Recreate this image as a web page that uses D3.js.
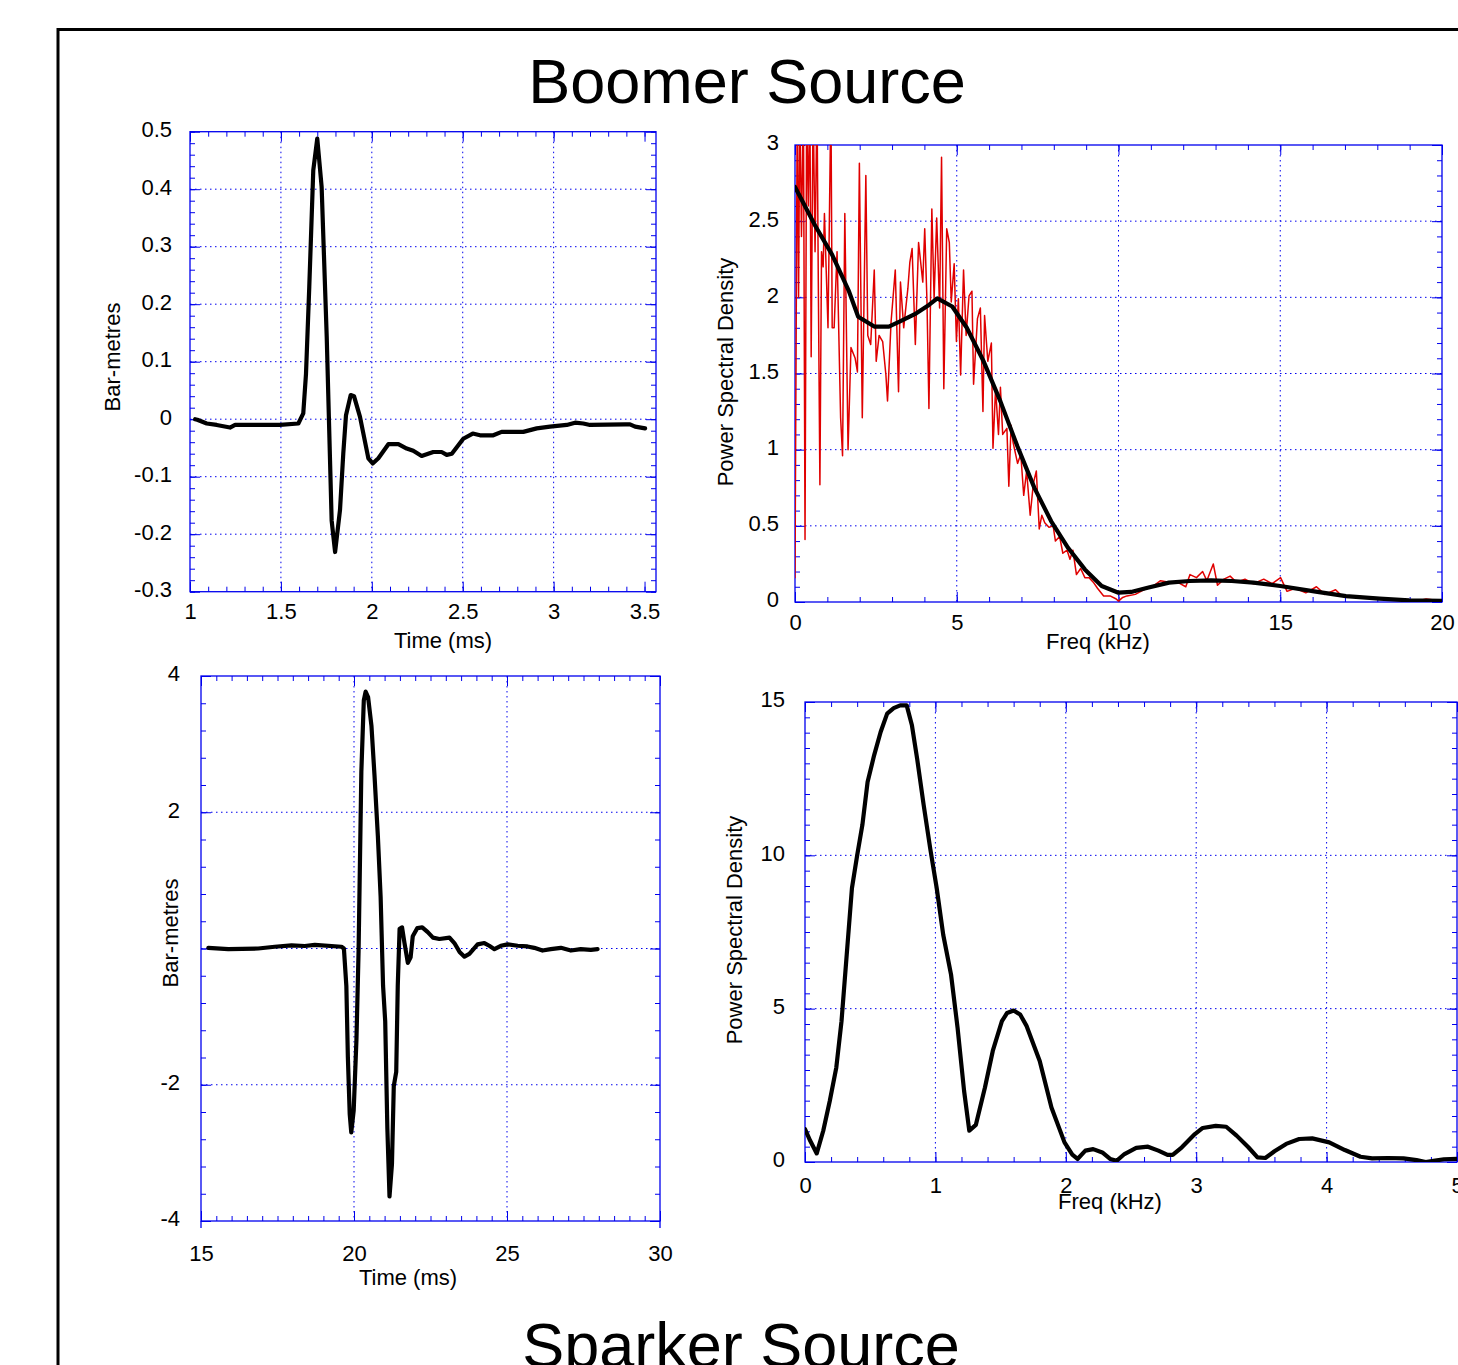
<!DOCTYPE html>
<html>
<head>
  <meta charset="utf-8">
  <title>Boomer / Sparker source</title>
  <script src="https://d3js.org/d3.v7.min.js"></script>
  <style>
    body { margin: 0; background: #fff; }
    svg { display: block; font-family: "Liberation Sans", Arial, Helvetica, sans-serif; }
    .frame { fill: none; stroke: #0000ee; stroke-width: 1.3; }
    .ticks .tick line { stroke: #0000ee; stroke-width: 1; }
    .domain { display: none; }
    .grid line { stroke: #0000ee; stroke-width: 1; stroke-dasharray: 1.5, 3.5; }
    .lbl text { font-size: 22px; fill: #000; }
    .title { font-size: 22px; fill: #000; text-anchor: middle; }
    .big { font-size: 63px; fill: #000; text-anchor: middle; }
  </style>
</head>
<body>
<svg id="chart" width="1458" height="1365"></svg>
<script>
// --- Boomer: pressure signature (ms, bar-metres)
var boomerT = [1.028,1.04,1.092,1.147,1.22,1.248,1.495,1.596,1.623,1.638,1.656,1.678,1.70,1.724,1.752,1.779,1.798,1.825,1.843,1.858,1.884,1.902,1.935,1.981,2.005,2.036,2.091,2.146,2.192,2.228,2.274,2.338,2.384,2.412,2.44,2.503,2.555,2.595,2.668,2.714,2.833,2.907,2.98,3.072,3.118,3.163,3.2,3.393,3.42,3.448,3.503];
var boomerV = [0.0,-0.001,-0.0075,-0.010,-0.0145,-0.010,-0.010,-0.0075,0.010,0.079,0.23,0.433,0.488,0.404,0.143,-0.176,-0.231,-0.158,-0.060,0.007,0.042,0.040,0.004,-0.068,-0.077,-0.068,-0.0435,-0.0435,-0.051,-0.055,-0.064,-0.057,-0.057,-0.062,-0.060,-0.034,-0.025,-0.028,-0.028,-0.022,-0.022,-0.016,-0.013,-0.010,-0.006,-0.0075,-0.010,-0.009,-0.009,-0.013,-0.016];

// --- Boomer: raw spectrum (red) and smoothed spectrum (black), kHz
var rawF = [0,0.03,0.07,0.11,0.15,0.2,0.26,0.31,0.36,0.41,0.46,0.5,0.56,0.62,0.68,0.72,0.77,0.82,0.87,0.91,1.02,1.11,1.15,1.21,1.30,1.41,1.47,1.54,1.64,1.73,1.86,1.93,1.99,2.08,2.19,2.25,2.34,2.45,2.51,2.60,2.71,2.81,2.86,2.97,3.10,3.20,3.26,3.36,3.49,3.55,3.62,3.72,3.82,3.95,4.01,4.08,4.14,4.23,4.30,4.38,4.47,4.53,4.60,4.69,4.77,4.83,4.92,4.99,5.05,5.12,5.21,5.29,5.38,5.47,5.52,5.64,5.73,5.81,5.86,5.96,6.07,6.12,6.20,6.29,6.35,6.42,6.55,6.61,6.68,6.74,6.88,6.98,7.07,7.16,7.27,7.37,7.46,7.55,7.63,7.72,7.85,7.98,8.05,8.18,8.28,8.41,8.50,8.59,8.70,8.83,8.96,9.09,9.22,9.35,9.54,9.74,9.93,10.0,10.13,10.26,10.52,10.78,11.04,11.30,11.56,11.82,12.08,12.21,12.41,12.60,12.73,12.93,13.06,13.26,13.45,13.65,13.91,14.17,14.49,14.75,15.01,15.21,15.47,15.79,16.12,16.38,16.71,16.90,17.29,17.81,18.33,18.72,19.24,19.51,20.0];
var rawP = [0.16,1.5,3.3,2.0,3.3,2.4,3.3,0.41,3.3,2.6,3.3,1.61,3.3,2.3,3.3,2.11,0.77,2.3,2.2,2.55,1.8,3.3,1.8,1.8,2.3,1.21,0.96,2.55,1.0,1.67,1.6,1.51,2.88,1.21,2.8,1.75,1.69,2.18,1.58,1.75,1.71,1.49,1.32,1.84,2.18,1.38,2.1,1.8,2.06,2.23,2.32,1.69,2.36,2.1,2.45,1.97,1.27,2.58,1.99,2.52,1.93,2.92,1.4,2.45,2.36,1.97,2.22,1.71,1.99,1.49,2.18,1.75,2.01,2.04,1.43,1.86,1.93,1.25,1.88,1.58,1.70,1.01,1.40,1.10,1.41,1.10,1.14,0.76,1.16,1.05,0.91,0.97,0.70,0.86,0.57,0.78,0.86,0.48,0.57,0.52,0.49,0.50,0.40,0.43,0.32,0.34,0.28,0.34,0.18,0.22,0.16,0.16,0.13,0.09,0.04,0.04,0.02,0.006,0.03,0.04,0.05,0.08,0.10,0.14,0.13,0.13,0.10,0.18,0.16,0.20,0.14,0.25,0.11,0.15,0.17,0.13,0.15,0.12,0.15,0.12,0.16,0.07,0.09,0.06,0.10,0.05,0.08,0.04,0.04,0.03,0.02,0.01,0.007,0.02,0.007];
var smoothF = [0,0.625,1.146,1.667,1.953,2.45,2.9,3.23,3.75,4.14,4.4,4.86,5.31,5.83,6.35,6.875,7.4,7.92,8.44,8.96,9.48,10.0,10.39,10.9,11.56,12.2,12.86,13.5,14.17,15.0,16.1,17.03,18.07,18.98,20];
var smoothP = [2.725,2.47,2.28,2.04,1.873,1.808,1.808,1.84,1.895,1.95,1.993,1.94,1.80,1.58,1.317,1.022,0.749,0.53,0.356,0.214,0.105,0.061,0.066,0.094,0.127,0.138,0.142,0.138,0.127,0.105,0.068,0.039,0.022,0.011,0.007];

// --- Sparker: pressure signature
var sparkT = [15.24,15.89,16.87,17.41,17.96,18.39,18.72,19.59,19.67,19.75,19.80,19.86,19.91,19.99,20.08,20.15,20.24,20.32,20.38,20.46,20.57,20.67,20.78,20.87,20.95,21.02,21.09,21.16,21.24,21.30,21.38,21.43,21.49,21.57,21.65,21.76,21.85,21.92,22.07,22.23,22.41,22.58,22.79,23.12,23.28,23.45,23.61,23.77,24.04,24.26,24.42,24.59,24.80,25.02,25.35,25.67,25.89,26.16,26.43,26.76,27.09,27.41,27.74,27.96];
var sparkV = [0.01,-0.01,0,0.026,0.047,0.037,0.052,0.026,0,-0.55,-1.60,-2.43,-2.70,-2.38,-1.34,-0.03,2.59,3.64,3.77,3.69,3.27,2.54,1.65,0.76,-0.55,-1.07,-2.64,-3.64,-3.17,-2.02,-1.81,-0.55,0.29,0.31,0.08,-0.21,-0.13,0.18,0.30,0.31,0.24,0.16,0.14,0.16,0.08,-0.05,-0.12,-0.08,0.06,0.08,0.04,-0.01,0.04,0.06,0.04,0.03,0.01,-0.03,-0.01,0.01,-0.03,-0.01,-0.02,-0.01];

// --- Sparker: spectrum
var sparkF = [0,0.04,0.09,0.14,0.19,0.24,0.28,0.32,0.36,0.40,0.44,0.48,0.53,0.58,0.63,0.68,0.73,0.78,0.82,0.86,0.91,0.96,1.01,1.06,1.12,1.17,1.22,1.26,1.31,1.38,1.44,1.51,1.55,1.60,1.65,1.70,1.80,1.89,1.99,2.05,2.09,2.15,2.21,2.28,2.34,2.39,2.45,2.54,2.63,2.71,2.78,2.82,2.89,2.99,3.05,3.15,3.23,3.31,3.40,3.47,3.53,3.60,3.69,3.79,3.89,4.02,4.14,4.26,4.35,4.47,4.59,4.69,4.76,4.82,4.90,5.0];
var sparkP = [1.07,0.69,0.28,1.02,1.99,3.08,4.59,6.76,8.93,10.0,10.99,12.39,13.26,14.02,14.62,14.80,14.89,14.89,14.24,13.15,11.64,10.23,8.93,7.41,6.11,4.38,2.32,1.02,1.21,2.43,3.62,4.59,4.86,4.94,4.81,4.43,3.29,1.78,0.64,0.24,0.10,0.37,0.42,0.31,0.10,0.04,0.26,0.46,0.50,0.37,0.23,0.23,0.48,0.91,1.11,1.18,1.15,0.86,0.48,0.15,0.13,0.35,0.59,0.75,0.77,0.64,0.39,0.17,0.12,0.13,0.12,0.06,0.0,0.04,0.09,0.10];

// tick labels
var boomerTimeTicks = [1, 1.5, 2, 2.5, 3, 3.5];
var boomerAmpTicks = [-0.3, -0.2, -0.1, 0, 0.1, 0.2, 0.3, 0.4, 0.5];
var boomerFreqTicks = [0, 5, 10, 15, 20];
var boomerPsdTicks = [0, 0.5, 1, 1.5, 2, 2.5, 3];
var sparkTimeTicks = [15, 20, 25, 30];
var sparkAmpTicks = [-4, -2, 0, 2, 4];
var sparkFreqTicks = [0, 1, 2, 3, 4, 5];
var sparkPsdTicks = [0, 5, 10, 15];

var svg = d3.select("#chart");

// outer page frame
svg.append("path")
  .attr("d", "M58,1365V29.5H1458")
  .attr("fill", "none").attr("stroke", "#000").attr("stroke-width", 3);

svg.append("text").attr("class", "big").attr("x", 747).attr("y", 103).text("Boomer Source");
svg.append("text").attr("class", "big").attr("x", 741).attr("y", 1367).text("Sparker Source");

var clipId = 0;

function panel(p) {
  var g = svg.append("g");
  var x = d3.scaleLinear().domain(p.xDomain).range([p.left, p.right]);
  var y = d3.scaleLinear().domain(p.yDomain).range([p.bottom, p.top]);
  var xMinor = d3.range(p.xDomain[0], p.xDomain[1] + 1e-9, p.xMinor);
  var yMinor = d3.range(p.yDomain[0], p.yDomain[1] + 1e-9, p.yMinor);

  // dotted grid
  var grid = g.append("g").attr("class", "grid");
  grid.selectAll(".gx").data(p.xGrid).join("line").attr("class", "gx")
    .attr("x1", function (d) { return x(d); }).attr("x2", function (d) { return x(d); })
    .attr("y1", p.top).attr("y2", p.bottom);
  grid.selectAll(".gy").data(p.yGrid).join("line").attr("class", "gy")
    .attr("y1", function (d) { return y(d); }).attr("y2", function (d) { return y(d); })
    .attr("x1", p.left).attr("x2", p.right);

  // inward ticks on all four sides
  function ticks(vals, size) {
    g.append("g").attr("class", "ticks").attr("transform", "translate(0," + p.bottom + ")")
      .call(d3.axisBottom(x).tickValues(vals.x).tickSize(-size).tickFormat(""));
    g.append("g").attr("class", "ticks").attr("transform", "translate(0," + p.top + ")")
      .call(d3.axisTop(x).tickValues(vals.x).tickSize(-size).tickFormat(""));
    g.append("g").attr("class", "ticks").attr("transform", "translate(" + p.left + ",0)")
      .call(d3.axisLeft(y).tickValues(vals.y).tickSize(-size).tickFormat(""));
    g.append("g").attr("class", "ticks").attr("transform", "translate(" + p.right + ",0)")
      .call(d3.axisRight(y).tickValues(vals.y).tickSize(-size).tickFormat(""));
  }
  ticks({ x: xMinor, y: yMinor }, 5);
  ticks({ x: p.xTicks, y: p.yTicks }, 10);

  g.append("rect").attr("class", "frame")
    .attr("x", p.left).attr("y", p.top)
    .attr("width", p.right - p.left).attr("height", p.bottom - p.top);

  if (p.caps) {
    g.selectAll(".cap").data(p.xDomain).join("line").attr("class", "cap")
      .attr("x1", function (d) { return x(d); }).attr("x2", function (d) { return x(d); })
      .attr("y1", p.bottom).attr("y2", p.bottom + 7)
      .attr("stroke", "#0000ee").attr("stroke-width", 1.3);
  }

  // tick labels
  var fmt = p.yFormat || function (d) { return String(d); };
  g.append("g").attr("class", "lbl").attr("transform", "translate(0," + p.bottom + ")")
    .call(d3.axisBottom(x).tickValues(p.xTicks).tickSize(0).tickPadding(p.xPad)
      .tickFormat(function (d) { return String(d); }));
  g.append("g").attr("class", "lbl").attr("transform", "translate(" + p.left + ",0)")
    .call(d3.axisLeft(y).tickValues(p.yTicks).tickSize(0).tickPadding(p.yPad).tickFormat(fmt))
    .selectAll("text").attr("dy", "0.22em");

  g.append("text").attr("class", "title")
    .attr("x", p.xTitle[0]).attr("y", p.xTitle[1]).text(p.xLabel);
  g.append("text").attr("class", "title")
    .attr("transform", "translate(" + p.yTitle[0] + "," + p.yTitle[1] + ") rotate(-90)")
    .text(p.yLabel);

  // series
  var id = "clip" + (clipId++);
  g.append("clipPath").attr("id", id).append("rect")
    .attr("x", p.left).attr("y", p.top)
    .attr("width", p.right - p.left).attr("height", p.bottom - p.top);
  var line = d3.line()
    .x(function (d) { return x(d[0]); })
    .y(function (d) { return y(d[1]); });
  p.series.forEach(function (s) {
    g.append("path")
      .datum(d3.zip(s.xs, s.ys))
      .attr("clip-path", "url(#" + id + ")")
      .attr("fill", "none")
      .attr("stroke", s.color)
      .attr("stroke-width", s.width)
      .attr("stroke-linejoin", "round")
      .attr("stroke-linecap", "round")
      .attr("d", line);
  });
}

// Boomer signature
panel({
  left: 190, right: 656, top: 131.7, bottom: 591.7,
  xDomain: [1, 3.563], yDomain: [-0.3, 0.5],
  xTicks: boomerTimeTicks, yTicks: boomerAmpTicks,
  xMinor: 0.1, yMinor: 0.02,
  xGrid: [1.5, 2, 2.5, 3], yGrid: [-0.2, -0.1, 0, 0.1, 0.2, 0.3, 0.4],
  xPad: 12, yPad: 18,
  xLabel: "Time (ms)", xTitle: [443, 648],
  yLabel: "Bar-metres", yTitle: [120, 357],
  series: [{ xs: boomerT, ys: boomerV, color: "#000", width: 4.2 }]
});

// Boomer spectrum
panel({
  left: 795, right: 1442, top: 145, bottom: 602,
  xDomain: [0, 20], yDomain: [0, 3],
  xTicks: boomerFreqTicks, yTicks: boomerPsdTicks,
  xMinor: 1, yMinor: 0.1,
  xGrid: [5, 10, 15], yGrid: [0.5, 1, 1.5, 2, 2.5],
  xPad: 12, yPad: 16,
  xLabel: "Freq (kHz)", xTitle: [1098, 649],
  yLabel: "Power Spectral Density", yTitle: [733, 372],
  series: [
    { xs: rawF, ys: rawP, color: "#e00000", width: 1.5 },
    { xs: smoothF, ys: smoothP, color: "#000", width: 4.2 }
  ]
});

// Sparker signature
panel({
  left: 201, right: 660, top: 676, bottom: 1221,
  xDomain: [15, 30], yDomain: [-4, 4],
  xTicks: sparkTimeTicks, yTicks: sparkAmpTicks,
  xMinor: 0.5, yMinor: 0.4,
  xGrid: [20, 25], yGrid: [-2, 0, 2],
  xPad: 24, yPad: 21, caps: true,
  yFormat: function (d) { return d === 0 ? "" : String(d); },
  xLabel: "Time (ms)", xTitle: [408, 1285],
  yLabel: "Bar-metres", yTitle: [178, 933],
  series: [{ xs: sparkT, ys: sparkV, color: "#000", width: 4.2 }]
});

// Sparker spectrum
panel({
  left: 805, right: 1457, top: 702, bottom: 1162,
  xDomain: [0, 5], yDomain: [0, 15],
  xTicks: sparkFreqTicks, yTicks: sparkPsdTicks,
  xMinor: 0.2, yMinor: 0.5,
  xGrid: [1, 2, 3, 4], yGrid: [5, 10],
  xPad: 15, yPad: 20,
  xLabel: "Freq (kHz)", xTitle: [1110, 1209],
  yLabel: "Power Spectral Density", yTitle: [742, 930],
  series: [{ xs: sparkF, ys: sparkP, color: "#000", width: 4.2 }]
});
</script>
</body>
</html>
